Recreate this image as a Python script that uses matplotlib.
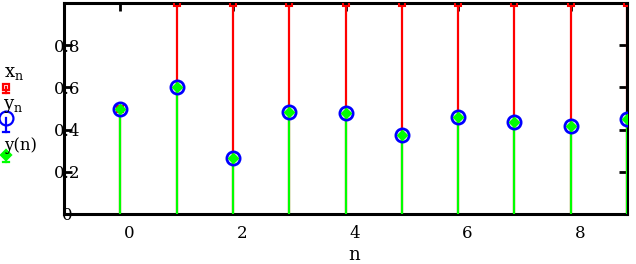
import matplotlib
matplotlib.use("Agg")
import matplotlib.pyplot as plt
import matplotlib.transforms as mtransforms
from matplotlib.lines import Line2D

# samples
n = [0, 1, 2, 3, 4, 5, 6, 7, 8, 9]
x_n = [0.50, 1.0, 1.0, 1.0, 1.0, 1.0, 1.0, 1.0, 1.0, 1.0]   # runs off the top for n >= 1
y_n = [0.50, 0.60, 0.265, 0.483, 0.478, 0.374, 0.459, 0.438, 0.416, 0.448]
y_fn = [0.50, 0.60, 0.265, 0.483, 0.478, 0.374, 0.459, 0.438, 0.416, 0.448]

yticks = [0, 0.2, 0.4, 0.6, 0.8]
ytick_labels = ["0", "0.2", "0.4", "0.6", "0.8"]
xticks = [0, 2, 4, 6, 8]

plt.rcParams['font.family'] = ['DejaVu Serif']
plt.rcParams['mathtext.fontset'] = 'dejavuserif'

fig = plt.figure(figsize=(6.36, 2.64), dpi=100)
ax = fig.add_axes([64/636, 50/264, 563/636, 211/264])

RED, BLUE, GREEN = '#ff0000', '#0000ff', '#00ff00'

# red stems (full), then green stems on top, then markers
ax.vlines(n, 0, x_n, color=RED, lw=1.6, zorder=2)
ax.plot(n, x_n, ls='none', marker='s', ms=5, mfc='none', mec=RED, mew=1.5, zorder=3.5)
ax.vlines(n, 0, y_fn, color=GREEN, lw=1.6, zorder=3)
ax.plot(n, y_n, ls='none', marker='o', ms=9.5, mfc='none', mec=BLUE, mew=2, zorder=4)
ax.plot(n, y_fn, ls='none', marker='D', ms=5, color=GREEN, zorder=5)

ax.set_xlim(-1, 9)
ax.set_ylim(0, 1.0)

for s in ax.spines.values():
    s.set_linewidth(2.2)

ax.set_yticks(yticks)
ax.set_yticklabels(ytick_labels, fontsize=12)
ax.tick_params(axis='y', direction='in', length=6, width=2, pad=-2, right=True)
for lab in ax.get_yticklabels():
    lab.set_horizontalalignment('center')

ax.set_xticks(xticks)
ax.set_xticklabels([str(v) for v in xticks], fontsize=12)
ax.tick_params(axis='x', direction='in', length=6, width=2, pad=8, top=True, bottom=False)
shift = mtransforms.ScaledTranslation(9/100, 0, fig.dpi_scale_trans)
for lab in ax.get_xticklabels():
    lab.set_transform(lab.get_transform() + shift)

ax.set_xlabel('n', fontsize=13)
ax.xaxis.set_label_coords(0.515, -0.15)

# legend down the left edge, Mathcad style
fig.text(4/636, 1 - 73/264, r'$\mathrm{x}_{\mathrm{n}}$', fontsize=13, va='center')
fig.text(3/636, 1 - 106/264, r'$\mathrm{y}_{\mathrm{n}}$', fontsize=13, va='center')
fig.text(4/636, 1 - 146/264, 'y(n)', fontsize=12, va='center')

def key(yc, y_end, color, marker, ms, filled):
    fx = 6/636
    fig.add_artist(Line2D([fx, fx], [1 - yc/264, 1 - y_end/264], color=color, lw=1.6))
    fig.add_artist(Line2D([fx - 3/636, fx + 3/636], [1 - y_end/264] * 2, color=color, lw=1.6))
    fig.add_artist(Line2D([fx], [1 - yc/264], marker=marker, ms=ms, ls='none',
                          mfc=color if filled else 'none', mec=color, mew=1.6))

key(87, 93, RED, 's', 5, False)
key(118, 132, BLUE, 'o', 10, False)
key(155, 162, GREEN, 'D', 5, True)

fig.savefig('out.png', dpi=100)
